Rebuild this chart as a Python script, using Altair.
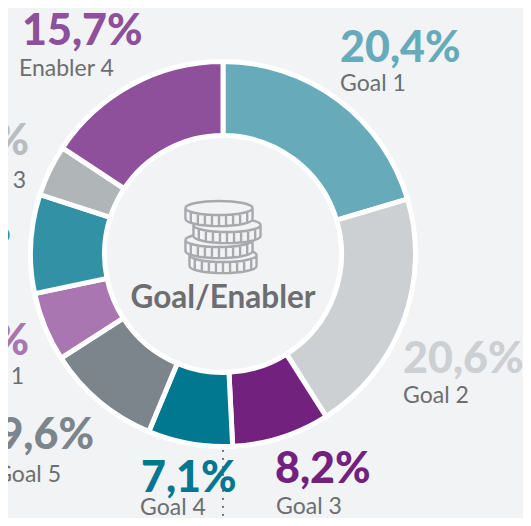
import altair as alt
import numpy as np
import pandas as pd

categories = ["Goal 1", "Goal 2", "Goal 3", "Goal 4", "Goal 5", "Enabler 1", "Enabler 2", "Enabler 3", "Enabler 4"]
values = [20.4, 20.6, 8.2, 7.1, 9.6, 5.8, 8.3, 4.3, 15.7]
colors = ["#67abbb", "#ccd0d3", "#72217f", "#017790", "#7c858c", "#a976b1", "#3391a5", "#b0b5b8", "#8e4f9b"]
value_colors = ["#67abbb", "#ccd0d3", "#72217f", "#017790", "#7c858c", "#a976b1", "#3391a5", "#b9bdc0", "#8e4f9b"]
center_title = "Goal/Enabler"

# layout only (reference pixels): value x, value baseline, name x, name baseline, alignment
placement = [
    (340, 62, 340, 91, "left"),
    (403, 373, 403, 403, "left"),
    (275, 483, 276, 514, "left"),
    (141, 492, 140, 515, "left"),
    (94, 449, 61, 482, "right"),
    (29, 355, 24, 384, "right"),
    (11, 243, 8, 277, "right"),
    (29, 155, 26, 188, "right"),
    (22, 45, 19, 76, "left"),
]

BG = "#f2f3f5"
CX, CY = 223, 254
OFF = 8


def px(v):
    return alt.value(v - OFF)


df = pd.DataFrame({"cat": categories, "value": values, "color": colors, "idx": range(len(values))})

ring = alt.Chart(df).mark_arc(
    innerRadius=118.5, outerRadius=192.5, stroke="white", strokeWidth=5
).encode(
    theta=alt.Theta("value:Q", stack=True, scale=alt.Scale(domain=[0, 100], range=[0, 2 * np.pi])),
    color=alt.Color("color:N", scale=None),
    order=alt.Order("idx:Q"),
    x=px(CX),
    y=px(CY),
)

dots = alt.Chart(pd.DataFrame({"a": [0]})).mark_rule(
    color="#58595b", strokeWidth=1.8, strokeDash=[1.8, 6.2]
).encode(x=px(223), y=px(450), y2=px(526))

layers = [ring, dots]

for cat, val, col, (vx, vy, nx, ny, al) in zip(categories, values, value_colors, placement):
    row = pd.DataFrame({"pct": [f"{val:.1f}".replace(".", ",") + "%"], "name": [cat]})
    layers.append(
        alt.Chart(row).mark_text(
            font="Lato", fontWeight=900, fontSize=43, color=col, align=al, baseline="alphabetic"
        ).encode(text="pct:N", x=px(vx), y=px(vy))
    )
    layers.append(
        alt.Chart(row).mark_text(
            font="Lato", fontSize=23, color="#6d6e71", align=al, baseline="alphabetic"
        ).encode(text="name:N", x=px(nx), y=px(ny))
    )

layers.append(
    alt.Chart(pd.DataFrame({"t": [center_title]})).mark_text(
        font="Lato", fontWeight="bold", fontSize=31.5, color="#6d6e71", align="center", baseline="alphabetic"
    ).encode(text="t:N", x=px(CX), y=px(308))
)


def coin_path():
    ry, depth = 0.21, 0.33
    p = f"M-1,0 A1,{ry} 0 1,1 1,0 A1,{ry} 0 1,1 -1,0 Z "
    p += f"M-1,0 L-1,{depth} A1,{ry} 0 0,0 1,{depth} L1,0 "
    for x in np.linspace(-0.84, 0.84, 9):
        s = ry * np.sqrt(1 - x * x)
        p += f"M{x:.3f},{s + 0.02:.3f} L{x:.3f},{s + depth - 0.02:.3f} "
    return p


# coin centres, bottom of the stack first
for cx, cy in [(223, 255), (219, 240), (227, 225), (219, 208)]:
    layers.append(
        alt.Chart(pd.DataFrame({"a": [0]})).mark_point(
            shape=coin_path(), size=4500, fill=BG, fillOpacity=1, stroke="#a7a9ac", strokeWidth=2.4, opacity=1
        ).encode(x=px(cx), y=px(cy))
    )

chart = alt.layer(*layers).properties(
    width=515, height=510, background=BG, padding=0,
    autosize=alt.AutoSizeParams(type="none"),
).configure_view(stroke=None)

chart.save("out.html", embed_options={"renderer": "svg", "actions": False})
